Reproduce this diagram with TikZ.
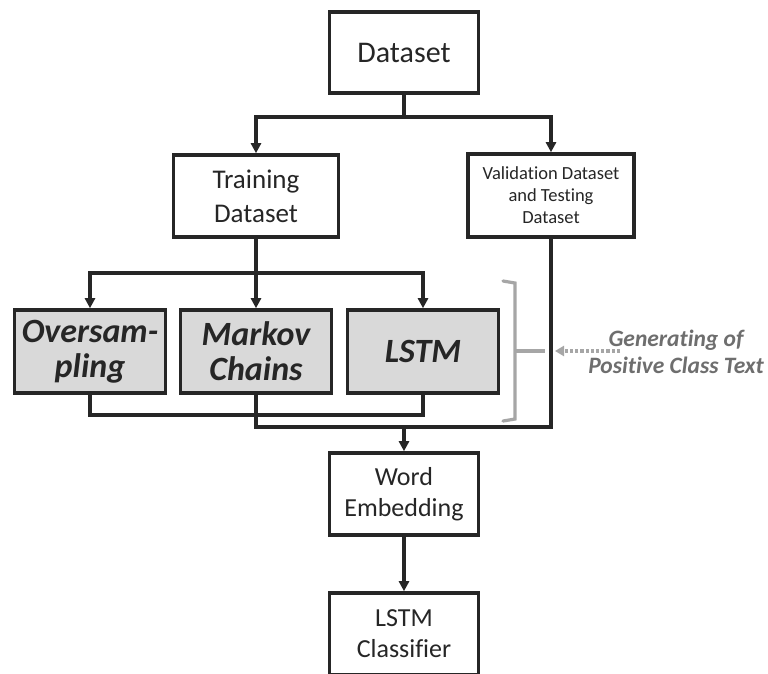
\documentclass[tikz,border=0pt]{standalone}
\usepackage{fontspec}
\setmainfont[Ligatures=NoCommon]{Carlito}
\usetikzlibrary{arrows.meta,positioning}
\definecolor{boxgray}{HTML}{D9D9D9}
\definecolor{bracegray}{HTML}{A6A6A6}
\definecolor{notegray}{HTML}{6E6E6E}
\definecolor{ink}{HTML}{262626}
\begin{document}
\begin{tikzpicture}[x=1pt,y=-1pt,
  box/.style={draw=ink, line width=3.6pt, fill=white, align=center,
    inner sep=0pt, text=ink},
  genbox/.style={box, fill=boxgray, minimum width=151pt, minimum height=83pt,
    font=\fontsize{34}{35}\selectfont\bfseries\itshape},
  link/.style={draw=ink, line width=3.3pt},
  arr/.style={link, -{Triangle[length=10pt,width=10pt]}},
]
\useasboundingbox (0,0) rectangle (768,673);
\fill[white] (0,0) rectangle (768,673);

\node[box, minimum width=149pt, minimum height=81pt,
  font=\fontsize{30}{34}\selectfont] (data) at (404,52.5) {Dataset};
\node[box, minimum width=165pt, minimum height=82pt,
  font=\fontsize{27}{34}\selectfont] (train) at (256,196) {Training\\Dataset};
\node[box, minimum width=166pt, minimum height=83pt,
  font=\fontsize{18.5}{22}\selectfont] (val) at (551,195.5) {Validation Dataset\\and Testing\\Dataset};

\node[genbox] (over) at (90,351.5) {Oversam-\\pling};
\node[genbox] (markov) at (256,351.5) {Markov\\Chains};
\node[genbox] (lstm) at (423,351.5) {LSTM};

\node[box, minimum width=149pt, minimum height=82pt,
  font=\fontsize{26}{31}\selectfont] (emb) at (404,494) {Word\\Embedding};
\node[box, minimum width=149pt, minimum height=82pt,
  font=\fontsize{26}{31}\selectfont] (cls) at (404,634) {LSTM\\Classifier};

% split of the dataset
\coordinate (split) at (404,117);
\draw[link] (data.south) -- (split);
\draw[arr] (split) -| (train.north);
\draw[arr] (split) -| (val.north);

% training data to the three generators
\coordinate (fan) at (256,273);
\draw[link] (train.south) -- (fan);
\draw[arr] (fan) -| (over.north);
\draw[arr] (fan) -- (markov.north);
\draw[arr] (fan) -| (lstm.north);

% merging of the generated and held-out data
\coordinate (low) at (256,415);
\coordinate (merge) at (404,427);
\draw[link] (over.south) |- (lstm.south |- low) -- (lstm.south);
\draw[link] (markov.south) |- (merge) -| (val.south);
\draw[arr] (merge) -- (emb.north);
\draw[arr] (emb.south) -- (cls.north);

% brace around the generators and its note
\draw[bracegray, line width=3.2pt, line cap=round]
  (503,281) -- (515,283) -- (515,419) -- (503,421);
\coordinate (tick) at (515,351);
\coordinate (tickend) at (545,351);
\draw[bracegray, line width=3.2pt] (tick) -- (tickend);
\node[font=\fontsize{23.5}{27}\selectfont\bfseries\itshape, text=notegray, align=center]
  (note) at (676,352) {Generating of\\Positive Class Text};
\coordinate (dotstart) at (620,351);
\draw[bracegray, line width=3.2pt, dotted, -{Triangle[length=9pt,width=10pt]}]
  (dotstart) -- (555,351);
\end{tikzpicture}
\end{document}
